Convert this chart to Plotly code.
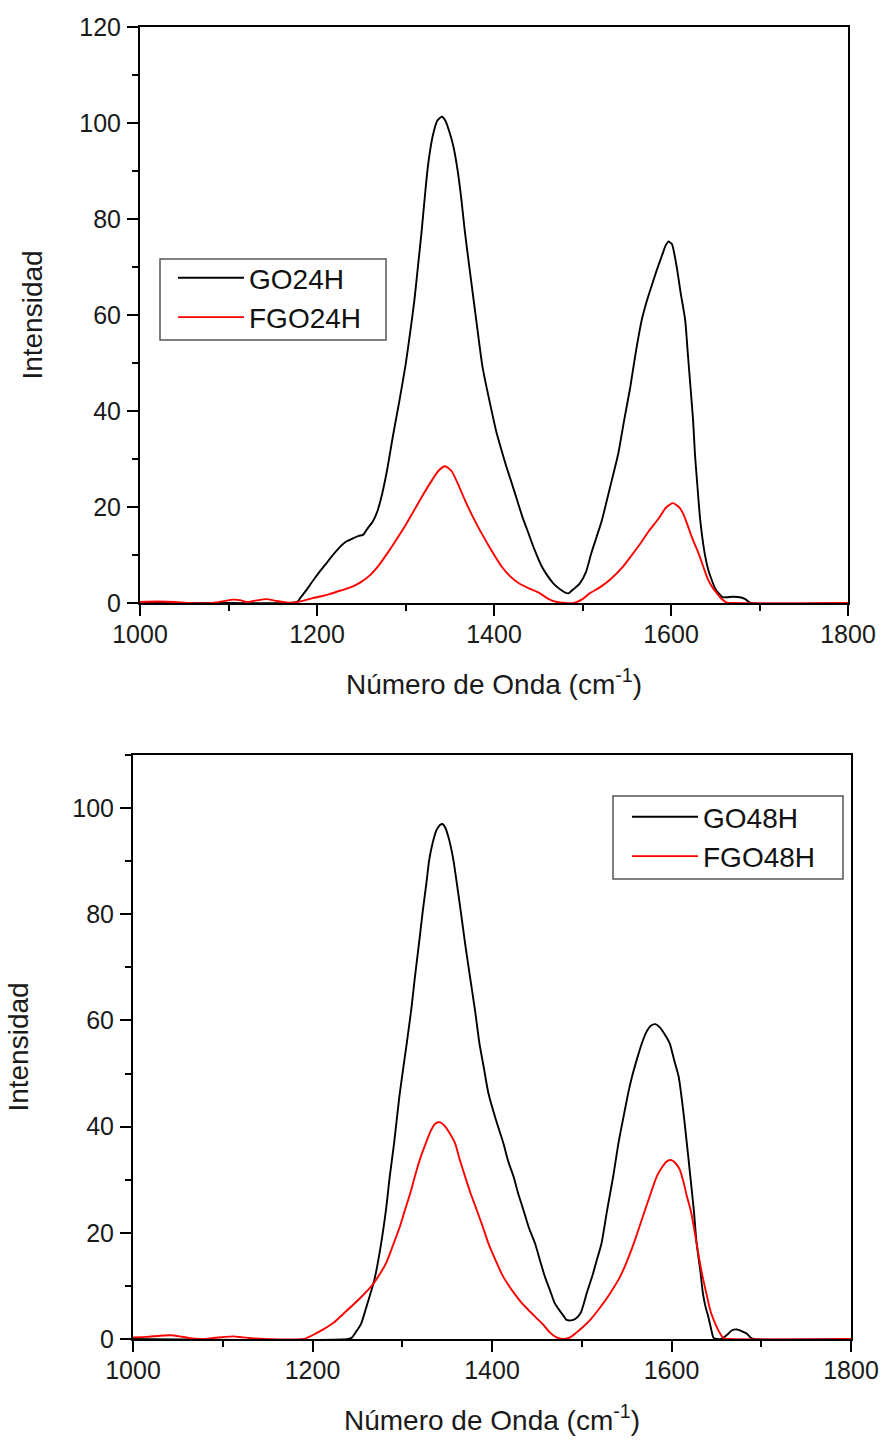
import plotly.graph_objects as go

# ---------------- data ----------------
go24_x = [1000, 1100, 1170, 1178, 1181, 1190, 1196, 1205, 1212, 1218, 1226, 1233, 1241, 1247, 1252, 1257,
          1263, 1268, 1272, 1279, 1286, 1293, 1300, 1305, 1310, 1314, 1318, 1321.5, 1325, 1328, 1331, 1336, 1341,
          1345, 1350, 1354, 1358.5, 1363, 1367, 1372, 1377, 1382, 1387, 1395, 1403, 1409, 1414, 1420, 1426,
          1432, 1439, 1446, 1454, 1460, 1467, 1475, 1480, 1484, 1488, 1492, 1497, 1504, 1510, 1516, 1522,
          1531, 1540.5, 1547, 1554, 1560, 1567, 1572, 1578, 1584, 1590, 1594, 1597, 1601, 1604, 1607, 1611,
          1616, 1619, 1622, 1625, 1627, 1630, 1633, 1638, 1642, 1646, 1650, 1654, 1658, 1663, 1670, 1678,
          1684, 1690, 1800]
go24_y = [0, 0, 0, 0.3, 1.0, 3.2, 4.8, 7.0, 8.6, 10.0, 11.7, 12.8, 13.5, 14.0, 14.2, 15.5,
          17.0, 19.0, 21.5, 27.5, 35.0, 42.0, 49.5, 56.0, 63.0, 70.0, 77.0, 84.0, 90.5, 94.5, 97.5, 100.5, 101.3,
          100.5, 97.9, 95.2, 90.6, 84.3, 77.5, 70.2, 63.1, 56.0, 49.2, 42.0, 35.4, 31.5, 28.4, 25.0, 21.5,
          18.0, 14.5, 11.0, 7.6, 5.8, 4.1, 2.8, 2.2, 2.0, 2.6, 3.2, 4.1, 6.5, 10.4, 13.8, 17.3,
          24.0, 31.2, 38.0, 45.0, 52.0, 59.0, 62.5, 66.0, 69.4, 72.5, 74.5, 75.3, 74.8, 72.5, 69.4, 64.5,
          59.0, 52.0, 45.0, 38.0, 31.2, 24.0, 17.3, 10.4, 7.0, 4.8, 3.0, 2.0, 1.2, 1.2, 1.3, 1.2,
          0.8, 0, 0]

fgo24_x = [1000, 1020, 1040, 1055, 1080, 1095, 1105, 1113, 1120, 1130, 1143, 1152, 1165, 1175, 1185, 1195,
           1205, 1215, 1225, 1232, 1240, 1250, 1260, 1270, 1280, 1290, 1300, 1310, 1320, 1330, 1337,
           1344.6, 1352, 1360, 1367, 1376, 1386, 1397, 1408.6, 1418, 1429, 1440, 1452, 1462, 1471, 1480, 1490,
           1500, 1508, 1520, 1532, 1545, 1555, 1565, 1575, 1586, 1594, 1602, 1609, 1614, 1618, 1624, 1631,
           1637, 1642, 1647, 1652, 1657, 1663, 1670, 1800]
fgo24_y = [0.2, 0.3, 0.2, 0, 0, 0.4, 0.7, 0.6, 0.2, 0.5, 0.8, 0.5, 0.1, 0.1, 0.5, 1.0,
           1.4, 1.9, 2.5, 2.9, 3.4, 4.4, 5.8, 7.9, 10.5, 13.3, 16.2, 19.4, 22.6, 25.6, 27.5,
           28.5, 27.5, 24.5, 21.5, 18.0, 14.5, 11.0, 7.6, 5.6, 4.0, 3.0, 2.0, 0.8, 0.2, 0, 0,
           0.8, 2.0, 3.3, 5.0, 7.4, 9.8, 12.3, 15.0, 17.6, 19.8, 20.8, 20.0, 18.5, 16.6, 13.5, 10.4,
           7.3, 4.8, 3.2, 2.0, 0.9, 0.1, 0, 0]

go48_x = [1000, 1240, 1244, 1249, 1254, 1260, 1265, 1269, 1276, 1282, 1286, 1291, 1297, 1305, 1310, 1314,
          1319, 1323, 1327, 1330, 1334, 1338, 1342, 1345, 1348, 1352, 1357, 1361, 1365, 1370, 1375.5, 1381,
          1386, 1391, 1396, 1404, 1412.6, 1418, 1424, 1429, 1435, 1441, 1448, 1454, 1459, 1465, 1470, 1476,
          1480, 1483, 1488, 1493, 1499, 1505.5, 1512, 1517, 1522, 1528, 1535, 1541, 1548, 1552, 1556, 1562,
          1567, 1572, 1577, 1582, 1587, 1592, 1598, 1603, 1608, 1613, 1617, 1621, 1625, 1628, 1632, 1635,
          1638, 1641, 1644, 1647, 1655, 1662, 1667, 1673, 1678, 1684, 1688, 1692, 1800]
go48_y = [0, 0, 0.3, 1.5, 2.8, 6.0, 8.8, 11.2, 17.5, 24.5, 30.5, 37.0, 46.0, 55.7, 62.0, 68.0,
          75.0, 80.8, 86.0, 90.2, 93.5, 95.8, 96.8, 97.0, 96.3, 94.2, 90.2, 85.6, 80.8, 74.5, 68.2, 62.0,
          55.7, 51.0, 46.3, 41.5, 36.9, 33.5, 30.6, 27.5, 24.3, 21.0, 18.0, 14.5, 11.7, 9.0, 6.7, 5.2,
          4.3, 3.6, 3.5, 3.8, 5.0, 8.6, 12.0, 15.0, 18.0, 24.0, 30.6, 37.0, 43.1, 46.5, 49.4, 53.0,
          55.7, 57.8, 59.0, 59.3, 58.7, 57.5, 55.7, 52.5, 49.4, 43.1, 37.0, 30.6, 24.0, 18.0, 13.0, 8.6,
          6.0, 4.2, 2.0, 0.2, 0, 0.8, 1.6, 1.8, 1.5, 1.0, 0.3, 0, 0]

fgo48_x = [1000, 1015, 1030, 1042, 1052, 1062, 1075, 1090, 1102, 1112, 1122, 1135, 1145, 1190, 1196, 1201,
           1212, 1223, 1236, 1245, 1256, 1265, 1273, 1282, 1290, 1297, 1303, 1309, 1314, 1320, 1326.5, 1332,
           1337, 1342, 1347, 1352, 1358.8, 1364, 1370, 1376, 1383, 1390, 1396, 1404, 1412.6, 1419, 1425.6, 1433,
           1440.4, 1448, 1457, 1464, 1472, 1480, 1487, 1494, 1501, 1510, 1518.5, 1530, 1542.6, 1550, 1558, 1564,
           1570.5, 1577, 1583.5, 1590, 1596, 1600, 1604, 1609, 1613, 1617, 1621.7, 1625, 1628, 1631, 1634.7, 1639,
           1643, 1647, 1652, 1657.7, 1665, 1800]
fgo48_y = [0.3, 0.4, 0.6, 0.7, 0.5, 0.2, 0, 0.2, 0.4, 0.5, 0.3, 0.1, 0, 0, 0.4, 0.8,
           1.8, 3.0, 5.0, 6.4, 8.2, 9.8, 11.7, 14.3, 17.8, 21.0, 24.3, 27.5, 30.6, 34.0, 37.0, 39.3,
           40.6, 40.8, 40.2, 39.0, 36.9, 33.8, 30.6, 27.5, 24.3, 21.0, 18.0, 14.8, 11.7, 10.0, 8.4, 6.8,
           5.5, 4.2, 2.7, 1.3, 0.3, 0, 0.3, 1.2, 2.2, 3.7, 5.5, 8.2, 11.7, 14.5, 18.0, 21.0,
           24.3, 27.5, 30.6, 32.5, 33.6, 33.7, 33.2, 32.0, 29.8, 27.0, 24.0, 21.0, 18.0, 15.0, 11.7, 8.5,
           5.5, 3.6, 1.7, 0.2, 0, 0]

x_ticks = [1000, 1200, 1400, 1600, 1800]
top_y_ticks = [0, 20, 40, 60, 80, 100, 120]
bot_y_ticks = [0, 20, 40, 60, 80, 100]

# ---------------- figure ----------------
W, H = 883, 1441
FONT = "Liberation Sans, Arial, sans-serif"
BLACK = "#000000"
RED = "#ff0000"
TXT = "#1a1a1a"


def line(color):
    return dict(color=color, width=1.9, shape="spline", smoothing=0.6)


fig = go.Figure()
fig.add_trace(go.Scatter(x=go24_x, y=go24_y, name="GO24H", mode="lines", line=line(BLACK),
                         xaxis="x", yaxis="y", legend="legend"))
fig.add_trace(go.Scatter(x=fgo24_x, y=fgo24_y, name="FGO24H", mode="lines", line=line(RED),
                         xaxis="x", yaxis="y", legend="legend"))
fig.add_trace(go.Scatter(x=go48_x, y=go48_y, name="GO48H", mode="lines", line=line(BLACK),
                         xaxis="x2", yaxis="y2", legend="legend2"))
fig.add_trace(go.Scatter(x=fgo48_x, y=fgo48_y, name="FGO48H", mode="lines", line=line(RED),
                         xaxis="x2", yaxis="y2", legend="legend2"))


def xax(domain, anchor):
    return dict(domain=domain, anchor=anchor, range=[1000, 1800], tickvals=x_ticks,
                ticks="outside", ticklen=11, tickwidth=1.8, tickcolor=BLACK,
                minor=dict(ticks="outside", ticklen=6, tickwidth=1.8, tickcolor=BLACK, dtick=100),
                showline=True, linecolor=BLACK, linewidth=2, mirror=True,
                showgrid=False, zeroline=False, automargin=False, ticklabelstandoff=-3,
                tickfont=dict(family=FONT, size=25, color=TXT),
                title=dict(text="Número de Onda (cm<sup>-1</sup>)",
                           font=dict(family=FONT, size=28, color=TXT), standoff=27))


def yax(domain, anchor, rng, ticks, standoff):
    return dict(domain=domain, anchor=anchor, range=rng, tickvals=ticks,
                ticks="outside", ticklen=11, tickwidth=1.8, tickcolor=BLACK,
                minor=dict(ticks="outside", ticklen=6, tickwidth=1.8, tickcolor=BLACK, dtick=10),
                showline=True, linecolor=BLACK, linewidth=2, mirror=True,
                showgrid=False, zeroline=False, automargin=False, ticklabelstandoff=1,
                tickfont=dict(family=FONT, size=25, color=TXT),
                title=dict(text="Intensidad", font=dict(family=FONT, size=28, color=TXT),
                           standoff=standoff))


def legend(x, y):
    return dict(x=x / W, y=1 - y / H, xanchor="left", yanchor="top",
                bgcolor="rgba(0,0,0,0)", borderwidth=0,
                font=dict(family=FONT, size=28, color="#111"), itemwidth=66, tracegroupgap=0)


def box(x0, y0, x1, y1):
    return dict(type="rect", xref="paper", yref="paper", x0=x0 / W, x1=x1 / W,
                y0=1 - y1 / H, y1=1 - y0 / H, line=dict(color="#555", width=1.5),
                fillcolor="white", layer="below")


fig.update_layout(
    width=W, height=H, autosize=False,
    margin=dict(l=0, r=0, t=0, b=0),
    paper_bgcolor="white", plot_bgcolor="rgba(0,0,0,0)",
    font=dict(family=FONT, color=TXT),
    showlegend=True,
    xaxis=xax([140 / W, 848 / W], "y"),
    yaxis=yax([1 - 603 / H, 1 - 27 / H], "x", [0, 120], top_y_ticks, 28),
    xaxis2=xax([133 / W, 851 / W], "y2"),
    yaxis2=yax([1 - 1339 / H, 1 - 755 / H], "x2", [0, 110], bot_y_ticks, 35),
    legend=legend(173, 253),
    legend2=legend(627, 792),
    shapes=[box(160, 259, 386, 340), box(613, 796, 843, 879)],
)

fig.write_html("out.html")
